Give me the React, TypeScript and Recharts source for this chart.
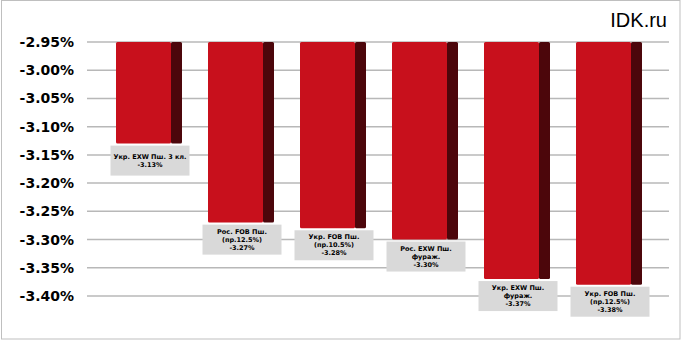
import React from "react";
import { BarChart, Bar, XAxis, YAxis, CartesianGrid, LabelList } from "recharts";

const categories = [
  ["Укр. EXW Пш. 3 кл."],
  ["Рос. FOB Пш.", "(пр.12.5%)"],
  ["Укр. FOB Пш.", "(пр.10.5%)"],
  ["Рос. EXW Пш.", "фураж."],
  ["Укр. EXW Пш.", "фураж."],
  ["Укр. FOB Пш.", "(пр.12.5%)"],
];
const values = [-3.13, -3.27, -3.28, -3.3, -3.37, -3.38];
const yTicks = [-2.95, -3.0, -3.05, -3.1, -3.15, -3.2, -3.25, -3.3, -3.35, -3.4];

const data = categories.map((c, i) => ({ name: c.join(" "), lines: c, value: values[i] }));

const FRONT = "#c8101c";
const SIDE = "#4c060b";
const SIDE_W = 11;

const BarShape = (props: any) => {
  const { x, y, width, height } = props;
  const top = Math.min(y, y + height);
  const h = Math.abs(height);
  return (
    <g>
      <rect x={x + width} y={top} width={SIDE_W} height={h} fill={SIDE} rx={1.5} />
      <rect x={x} y={top} width={width} height={h} fill={FRONT} rx={1.5} />
    </g>
  );
};

const LabelBox = (props: any) => {
  const { x, y, width, height, index } = props;
  const d = data[index];
  const lines = [...d.lines, d.value.toFixed(2) + "%"];
  const boxW = 79;
  const boxH = 30;
  const cx = x + (width + SIDE_W) / 2 + 1;
  const bottom = Math.max(y, y + height);
  const top = bottom + 2;
  const lh = 8;
  const startY = top + boxH / 2 - ((lines.length - 1) * lh) / 2;
  return (
    <g>
      <rect x={cx - boxW / 2} y={top} width={boxW} height={boxH} fill="#d9d9d9" />
      {lines.map((l, i) => (
        <text
          key={i}
          x={cx}
          y={startY + i * lh}
          textAnchor="middle"
          dominantBaseline="central"
          fontFamily="DejaVu Sans"
          fontWeight="bold"
          fontSize={6.5}
          fill="#000"
        >
          {l}
        </text>
      ))}
    </g>
  );
};

const YTick = (props: any) => {
  const { y, payload } = props;
  return (
    <text
      x={74}
      y={y}
      textAnchor="end"
      dominantBaseline="central"
      fontFamily="DejaVu Sans"
      fontWeight="bold"
      fontSize={14}
      fill="#000"
    >
      {payload.value.toFixed(2) + "%"}
    </text>
  );
};

export default function App() {
  return (
    <div style={{ position: "absolute", left: 0, top: 0, width: 681, height: 341, background: "#fff" }}>
      <svg width={681} height={341} style={{ position: "absolute", left: 0, top: 0 }}>
        <rect x={1.5} y={0.5} width={678.5} height={338.5} fill="none" stroke="#bfbfbf" strokeWidth={1} />
        <text x={667} y={27} textAnchor="end" fontFamily="Liberation Sans" fontSize={20} fill="#000">
          IDK.ru
        </text>
      </svg>
      <BarChart
        width={681}
        height={341}
        data={data}
        margin={{ top: 42, right: 12, bottom: 45, left: 0 }}
        style={{ position: "absolute", left: 0, top: 0 }}
      >
        <CartesianGrid vertical={false} stroke="#b8b8b8" strokeWidth={1.5} />
        <XAxis dataKey="name" hide padding={{ left: 10, right: 20 }} />
        <YAxis
          width={87}
          domain={[-3.4, -2.95]}
          ticks={yTicks}
          interval={0}
          axisLine={false}
          tickLine={false}
          tick={<YTick />}
          allowDataOverflow
        />
        <Bar dataKey="value" barSize={55} shape={<BarShape />} isAnimationActive={false}>
          <LabelList dataKey="value" content={<LabelBox />} />
        </Bar>
      </BarChart>
    </div>
  );
}
